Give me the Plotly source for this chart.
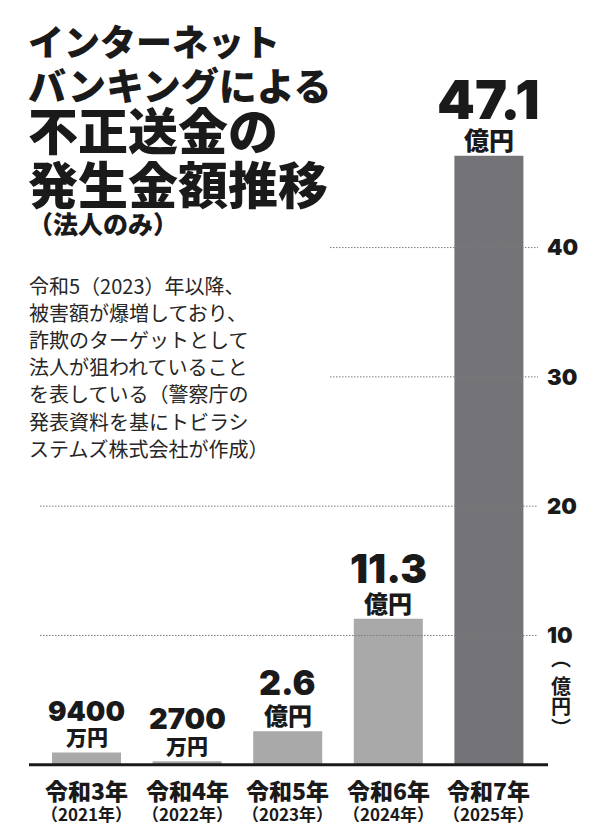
import plotly.graph_objects as go

# ---------------- data ----------------
categories = ["令和3年", "令和4年", "令和5年", "令和6年", "令和7年"]
years = ["（2021年）", "（2022年）", "（2023年）", "（2024年）", "（2025年）"]
values_oku = [0.94, 0.27, 2.6, 11.3, 47.1]          # 億円
value_labels = ["9400", "2700", "2.6", "11.3", "47.1"]
unit_labels = ["万円", "万円", "億円", "億円", "億円"]
y_ticks = [10, 20, 30, 40]
y_tick_labels = ["10", "20", "30", "40"]

title_lines = ["インターネット", "バンキングによる", "不正送金の", "発生金額推移", "（法人のみ）"]
desc_lines = [
    "令和5（2023）年以降、",
    "被害額が爆増しており、",
    "詐欺のターゲットとして",
    "法人が狙われていること",
    "を表している（警察庁の",
    "発表資料を基にトビラシ",
    "ステムズ株式会社が作成）",
]
axis_unit_chars = ["︵", "億", "円", "︶"]

# ---------------- styles / layout constants ----------------
W, H = 600, 835
ML, MR, MT, MB = 30, 59, 50, 67
PW, PH = W - ML - MR, H - MT - MB
X_RANGE = [-0.562, 4.518]
Y_RANGE = [-0.25, 55.28]
bar_colors = ["#a9a9a9", "#a9a9a9", "#a9a9a9", "#a9a9a9", "#747377"]
num_sizes = [27.5, 29, 34, 40, 54]
unit_sizes = [21, 21, 24, 24, 25]
num_shift = [42, 42.5, 48.5, 50, 56]
unit_shift = 16.5
grid_start_px = [40, 40, 330, 330]
unit_char_y = [657, 685, 705, 727]
TXT = "#1a1a1a"
JP = "Noto Sans CJK JP"
NUM = "Inter, Noto Sans CJK JP"


def px_x(px):
    return (px - ML) / PW


def px_y(py):
    return (H - MB - py) / PH


fig = go.Figure()
fig.add_trace(go.Bar(
    x=list(range(len(categories))), y=values_oku,
    marker=dict(color=bar_colors, line=dict(width=0)),
    width=0.686, hoverinfo="skip",
))

ann = []
# value labels
for i, (v, lab, unit) in enumerate(zip(values_oku, value_labels, unit_labels)):
    ann.append(dict(x=i, y=v, xref="x", yref="y", text=unit, showarrow=False,
                    xanchor="center", yanchor="middle", yshift=unit_shift,
                    font=dict(family=JP, size=unit_sizes[i], color=TXT, weight=900)))
    ann.append(dict(x=i, y=v, xref="x", yref="y", text=lab, showarrow=False,
                    xanchor="center", yanchor="middle", yshift=num_shift[i],
                    font=dict(family=NUM, size=num_sizes[i], color=TXT, weight=900)))
# category labels
for i, (c, yr) in enumerate(zip(categories, years)):
    ann.append(dict(x=i, y=px_y(790), xref="x", yref="paper", text=c, showarrow=False,
                    xanchor="center", yanchor="middle",
                    font=dict(family=JP, size=23, color=TXT, weight=900)))
    ann.append(dict(x=i, y=px_y(813), xref="x", yref="paper", text=yr, showarrow=False,
                    xanchor="center", yanchor="middle",
                    font=dict(family=JP, size=17, color=TXT, weight=700)))
# title
title_y = [40, 84, 128, 182, 223]
title_sz = [36, 38, 50, 50, 25]
for t, yy, sz in zip(title_lines, title_y, title_sz):
    ann.append(dict(x=px_x(26), y=px_y(yy), xref="paper", yref="paper", text=t,
                    showarrow=False, xanchor="left", yanchor="middle",
                    font=dict(family=JP, size=sz, color=TXT, weight=900)))
# description
for k, t in enumerate(desc_lines):
    ann.append(dict(x=px_x(27), y=px_y(285 + k * 27.2), xref="paper", yref="paper", text=t,
                    showarrow=False, xanchor="left", yanchor="middle",
                    font=dict(family=JP, size=20, color="#262626", weight=400)))
# axis unit (stacked vertically)
for ch, yy in zip(axis_unit_chars, unit_char_y):
    ann.append(dict(x=px_x(561), y=px_y(yy), xref="paper", yref="paper", text=ch,
                    showarrow=False, xanchor="center", yanchor="middle",
                    font=dict(family=JP, size=20, color=TXT, weight=700)))

shapes = []
for t, sx in zip(y_ticks, grid_start_px):
    shapes.append(dict(type="line", xref="paper", yref="y", x0=px_x(sx), x1=px_x(538),
                       y0=t, y1=t, line=dict(color="#7a7a7a", width=1, dash="1.5px,1.5px"),
                       layer="above"))
shapes.append(dict(type="line", xref="paper", yref="y", x0=px_x(29), x1=px_x(548),
                   y0=0, y1=0, line=dict(color="#1a1a1a", width=3), layer="above"))

fig.update_layout(
    width=W, height=H, autosize=False,
    margin=dict(l=ML, r=MR, t=MT, b=MB, pad=0),
    paper_bgcolor="white", plot_bgcolor="white",
    showlegend=False,
    xaxis=dict(range=X_RANGE, showticklabels=False, showgrid=False, zeroline=False,
               showline=False, ticks="", fixedrange=True),
    yaxis=dict(range=Y_RANGE, side="right", tickvals=y_ticks, ticktext=y_tick_labels,
               showgrid=False, zeroline=False, showline=False, ticks="",
               ticklabelstandoff=5,
               tickfont=dict(family=NUM, size=22, color=TXT, weight=900), fixedrange=True),
    annotations=ann, shapes=shapes,
)

fig.write_html("out.html", config={"displayModeBar": False})
